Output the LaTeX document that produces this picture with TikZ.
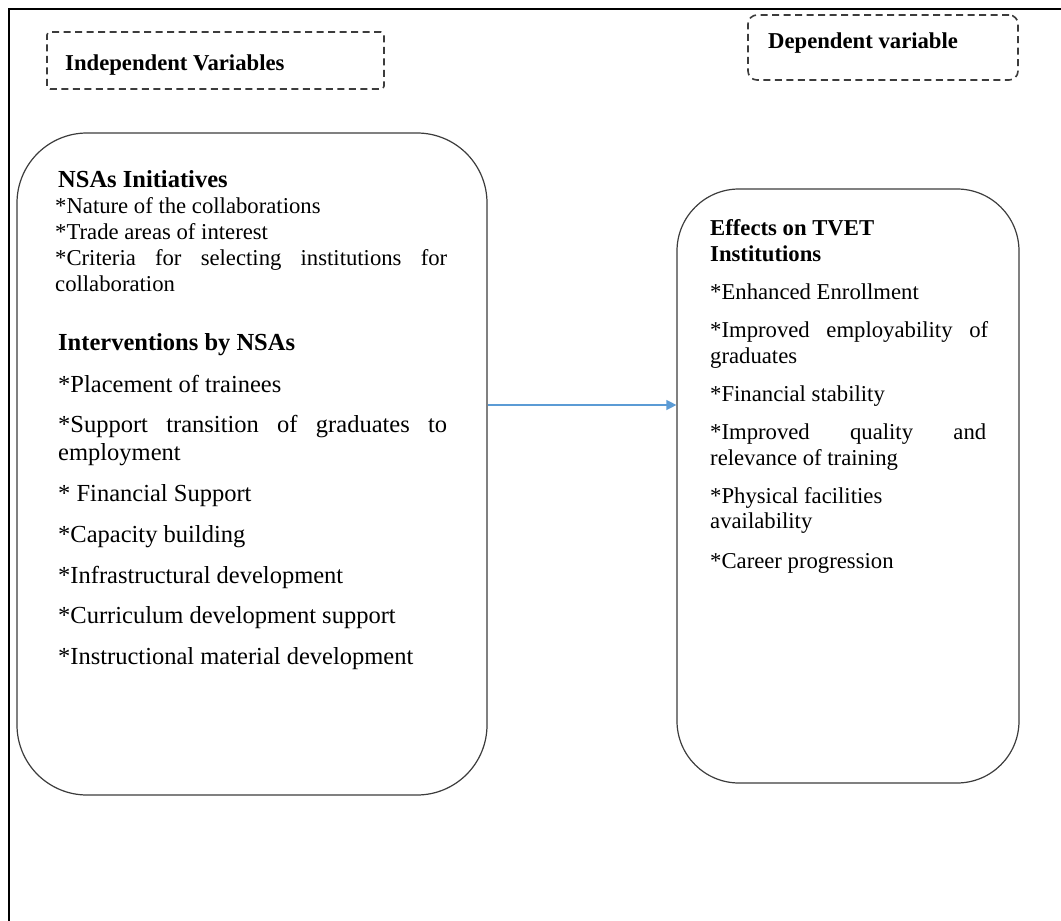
\documentclass[tikz,border=0pt]{standalone}
\usepackage{fontspec}
\setmainfont{Liberation Serif}
\usetikzlibrary{arrows.meta}
\definecolor{arrowblue}{RGB}{91,155,213}
\definecolor{boxgray}{RGB}{60,60,60}
\begin{document}
\begin{tikzpicture}[x=1pt,y=-1pt,
  txt/.style={anchor=base west,inner sep=0pt,font=\fontsize{22.7}{26}\selectfont},
  bold/.style={txt,font=\fontsize{22.7}{26}\selectfont\bfseries},
  txtb/.style={anchor=base west,inner sep=0pt,font=\fontsize{24.5}{28}\selectfont},
  boldb/.style={txt,font=\fontsize{24.5}{28}\selectfont\bfseries},
  varbox/.style={draw=boxgray,line width=1.2pt,rounded corners=70pt,inner sep=0pt},
  dashbox/.style={draw=boxgray,line width=1.6pt,dash pattern=on 7pt off 4.5pt,inner sep=0pt}]
\useasboundingbox (0,0) rectangle (1061,921);
% outer frame (top and left only)
\draw[line width=2pt] (9,921) -- (9,9) -- (1061,9);
% dashed header boxes
\node[dashbox,rounded corners=3pt,minimum width=337pt,minimum height=57pt] (ivbox) at (215.5,60.5) {};
\node[dashbox,rounded corners=9pt,minimum width=270pt,minimum height=65pt] (dvbox) at (883,47.5) {};
\node[bold] (ivlab) at (65,70) {Independent Variables};
\node[bold] (dvlab) at (768,48) {Dependent variable};
% main boxes
\node[varbox,minimum width=470pt,minimum height=662pt] (L) at (252,464) {};
\node[varbox,rounded corners=62pt,minimum width=342pt,minimum height=594pt] (R) at (848,486) {};
% left box text
\node[boldb] (l1) at (58,187) {NSAs Initiatives};
\node[txt] (l2) at (55,213) {*Nature of the collaborations};
\node[txt] (l3) at (55,239) {*Trade areas of interest};
\node[txt] (l4) at (55,265) {\makebox[392pt][s]{*Criteria for selecting institutions for}};
\node[txt] (l5) at (55,291) {collaboration};
\node[boldb] (l6) at (58,350) {Interventions by NSAs};
\node[txtb] (l7) at (58,392) {*Placement of trainees};
\node[txtb] (l8) at (58,432) {\makebox[389pt][s]{*Support transition of graduates to}};
\node[txtb] (l9) at (58,460) {employment};
\node[txtb] (l10) at (58,501) {* Financial Support};
\node[txtb] (l11) at (58,542) {*Capacity building};
\node[txtb] (l12) at (58,583) {*Infrastructural development};
\node[txtb] (l13) at (58,623) {*Curriculum development support};
\node[txtb] (l14) at (58,664) {*Instructional material development};
% right box text
\node[bold] (r1) at (710,235) {Effects on TVET};
\node[bold] (r2) at (710,261) {Institutions};
\node[txt] (r3) at (710,299) {*Enhanced Enrollment};
\node[txt] (r4) at (710,337) {\makebox[278pt][s]{*Improved employability of}};
\node[txt] (r5) at (710,363) {graduates};
\node[txt] (r6) at (710,401) {*Financial stability};
\node[txt] (r7) at (710,439) {\makebox[276pt][s]{*Improved quality and}};
\node[txt] (r8) at (710,465) {relevance of training};
\node[txt] (r9) at (710,503) {*Physical facilities};
\node[txt] (r10) at (710,528) {availability};
\node[txt] (r11) at (710,568) {*Career progression};
% connector
\coordinate (ay) at (0,405);
\draw[arrowblue,line width=1.3pt,-{Triangle[length=10pt,width=10pt]}] (L.east |- ay) -- (R.west |- ay);
\end{tikzpicture}
\end{document}
